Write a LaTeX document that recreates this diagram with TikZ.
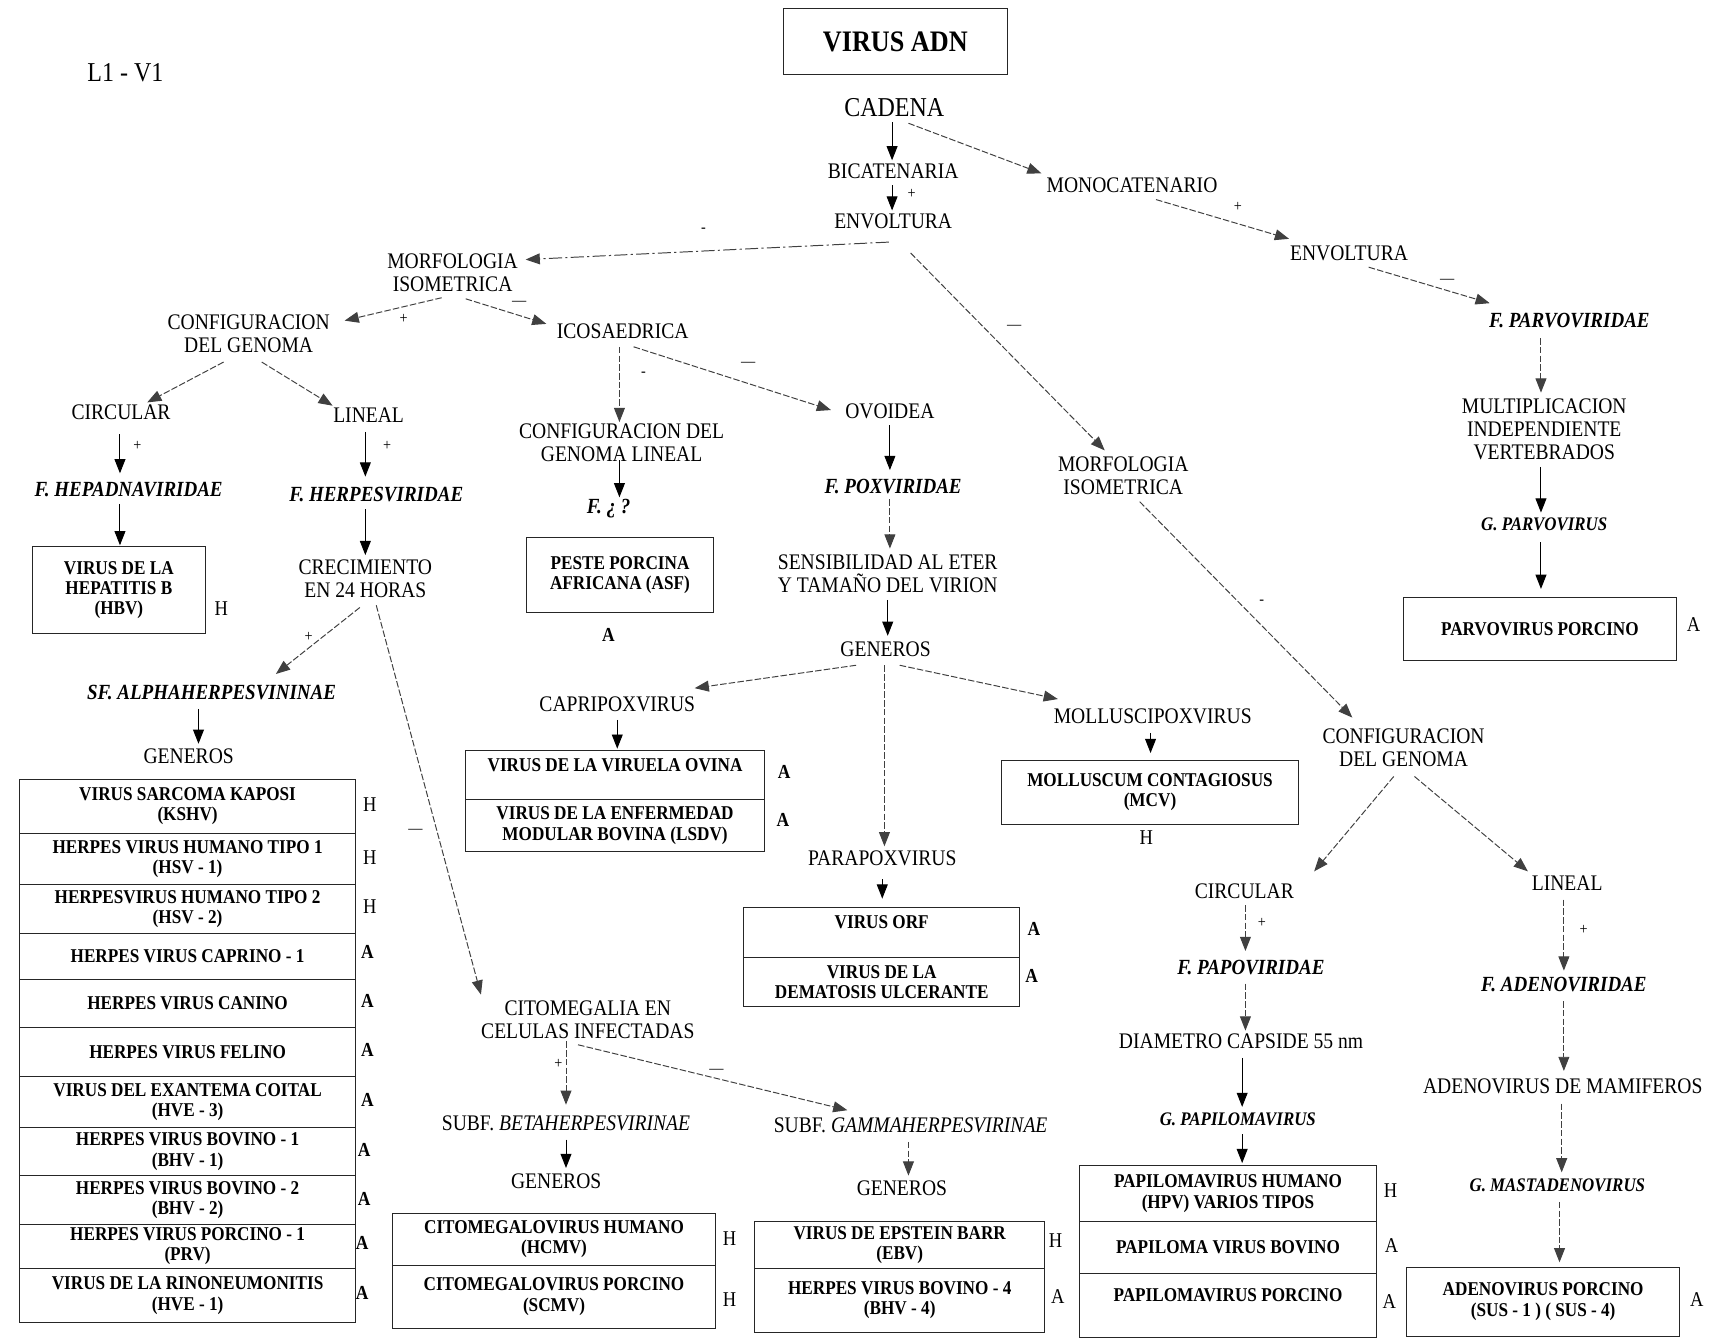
\documentclass[tikz,border=0pt]{standalone}
\usepackage{fontspec}
\setmainfont[FakeStretch=0.88]{Liberation Serif}
\usetikzlibrary{arrows.meta,calc}
\newcommand\myN{\fontsize{20.4}{21}\selectfont}
\newcommand\myBig{\fontsize{25}{26}\selectfont}
\newcommand\myT{\fontsize{27.3}{28}\selectfont\bfseries}
\newcommand\myB{\fontsize{17.9}{18.5}\selectfont\bfseries}
\newcommand\myI{\fontsize{19.8}{20}\selectfont\bfseries\itshape}
\newcommand\myG{\fontsize{17.6}{18}\selectfont\bfseries\itshape}
\newcommand\myL{\fontsize{19.3}{20}\selectfont}
\newcommand\myLB{\fontsize{18.2}{19}\selectfont\bfseries}
\newcommand\myS{\fontsize{14.8}{15}\selectfont}
\begin{document}
\begin{tikzpicture}[x=1pt,y=-1pt,
 every node/.style={inner sep=1pt,align=center},
 txt/.style={font=\myN},
 big/.style={font=\myBig},
 fam/.style={font=\myI},
 gen/.style={font=\myG},
 vbox/.style={draw=black!85,line width=0.8pt,inner sep=0pt,font=\myB},
 lab/.style={font=\myL},
 labb/.style={font=\myLB},
 pm/.style={font=\myS},
 arr/.style={line width=0.9pt,-{Triangle[length=13pt,width=10pt]}},
 darr/.style={arr,draw=black!75,dash pattern=on 6pt off 2pt},
 ddarr/.style={arr,draw=black!75,dash pattern=on 12pt off 3pt on 2pt off 3pt}]
\fill[white] (0,0) rectangle (1568,1228);
\useasboundingbox (0,0) rectangle (1568,1228);

% ---------- top ----------
\node[big] (l1) at (115,67) {L1 - V1};
\node[vbox,minimum width=206pt,minimum height=60pt,font=\myT] (title) at (821,38) {VIRUS ADN};
\node[big] (cadena) at (820,99) {CADENA};
\node[txt] (bicat) at (819,157) {BICATENARIA};
\node[txt] (mono) at (1038,170) {MONOCATENARIO};
\node[txt] (env1) at (819,203) {ENVOLTURA};
\node[txt] (env2) at (1237,232) {ENVOLTURA};

% ---------- right column (parvo) ----------
\node[fam] (parvo) at (1439,294) {F. PARVOVIRIDAE};
\node[txt] (multi) at (1416,394) {MULTIPLICACION\\INDEPENDIENTE\\VERTEBRADOS};
\node[gen] (gparvo) at (1416,481) {G. PARVOVIRUS};
\node[vbox,minimum width=251pt,minimum height=58pt] (bparvo) at (1412,577) {PARVOVIRUS PORCINO};
\node[lab] (lparvo) at (1553,573) {A};

% ---------- left branch ----------
\node[txt] (morf1) at (415,250) {MORFOLOGIA\\ISOMETRICA};
\node[txt] (conf1) at (228,306) {CONFIGURACION\\DEL GENOMA};
\node[txt] (icosa) at (571,304) {ICOSAEDRICA};
\node[txt] (circ1) at (111,378) {CIRCULAR};
\node[txt] (lin1) at (338,381) {LINEAL};
\node[fam] (hepa) at (118,449) {F. HEPADNAVIRIDAE};
\node[vbox,minimum width=158pt,minimum height=80pt] (bhep) at (109,541) {VIRUS DE LA\\HEPATITIS B\\(HBV)};
\node[lab] (lhep) at (203,558) {H};
\node[fam] (herpes) at (345,453) {F. HERPESVIRIDAE};
\node[txt] (crec) at (335,531) {CRECIMIENTO\\EN 24 HORAS};
\node[fam] (alpha) at (194,635) {SF. ALPHAHERPESVININAE};
\node[txt] (gen1) at (173,693) {GENEROS};

% left stack
\node[vbox,minimum width=308pt,minimum height=49pt] (k1) at (172,739.5) {VIRUS SARCOMA KAPOSI\\(KSHV)};
\node[vbox,minimum width=308pt,minimum height=47pt] (k2) at (172,787.5) {HERPES VIRUS HUMANO TIPO 1\\(HSV - 1)};
\node[vbox,minimum width=308pt,minimum height=45pt] (k3) at (172,833.5) {HERPESVIRUS HUMANO TIPO 2\\(HSV - 2)};
\node[vbox,minimum width=308pt,minimum height=42pt] (k4) at (172,877) {HERPES VIRUS CAPRINO - 1};
\node[vbox,minimum width=308pt,minimum height=44pt] (k5) at (172,920) {HERPES VIRUS CANINO};
\node[vbox,minimum width=308pt,minimum height=45pt] (k6) at (172,964.5) {HERPES VIRUS FELINO};
\node[vbox,minimum width=308pt,minimum height=47pt] (k7) at (172,1010.5) {VIRUS DEL EXANTEMA COITAL\\(HVE - 3)};
\node[vbox,minimum width=308pt,minimum height=44pt] (k8) at (172,1056) {HERPES VIRUS BOVINO - 1\\(BHV - 1)};
\node[vbox,minimum width=308pt,minimum height=45pt] (k9) at (172,1100.5) {HERPES VIRUS BOVINO - 2\\(BHV - 2)};
\node[vbox,minimum width=308pt,minimum height=40pt] (k10) at (172,1143) {HERPES VIRUS PORCINO - 1\\(PRV)};
\node[vbox,minimum width=308pt,minimum height=50pt] (k11) at (172,1188) {VIRUS DE LA RINONEUMONITIS\\(HVE - 1)};
\node[lab] (lk1) at (339,738) {H};
\node[lab] (lk2) at (339,786) {H};
\node[lab] (lk3) at (339,831) {H};
\node[labb] (lk4) at (337,873) {A};
\node[labb] (lk5) at (337,918) {A};
\node[labb] (lk6) at (337,963) {A};
\node[labb] (lk7) at (337,1009) {A};
\node[labb] (lk8) at (334,1054) {A};
\node[labb] (lk9) at (334,1099) {A};
\node[labb] (lk10) at (332,1140) {A};
\node[labb] (lk11) at (332,1186) {A};

% ---------- middle ----------
\node[txt] (conflin) at (570,406) {CONFIGURACION DEL\\GENOMA LINEAL};
\node[fam] (fq) at (558,466) {F. ¿ ?};
\node[vbox,minimum width=171pt,minimum height=69pt] (bpeste) at (568.5,527.5) {PESTE PORCINA\\AFRICANA (ASF)};
\node[labb] (lpeste) at (558,582) {A};
\node[txt] (ovo) at (816,377) {OVOIDEA};
\node[fam] (pox) at (819,446) {F. POXVIRIDAE};
\node[txt] (sens) at (814,526) {SENSIBILIDAD AL ETER\\Y TAMAÑO DEL VIRION};
\node[txt] (gen2) at (812,595) {GENEROS};
\node[txt] (capri) at (566,646) {CAPRIPOXVIRUS};
\node[txt] (moll) at (1057,657) {MOLLUSCIPOXVIRUS};
\node[txt] (para) at (809,787) {PARAPOXVIRUS};
\node[vbox,minimum width=274pt,minimum height=45pt] (bovina) at (564,710.5) {VIRUS DE LA VIRUELA OVINA\\ ~};
\node[vbox,minimum width=274pt,minimum height=48pt] (blsdv) at (564,757) {VIRUS DE LA ENFERMEDAD\\MODULAR BOVINA (LSDV)};
\node[labb] (lovina) at (719,708) {A};
\node[labb] (llsdv) at (718,752) {A};
\node[vbox,minimum width=253pt,minimum height=46pt] (borf) at (808.5,855) {VIRUS ORF\\ ~};
\node[vbox,minimum width=253pt,minimum height=45pt] (bderm) at (808.5,900.5) {VIRUS DE LA\\DEMATOSIS ULCERANTE};
\node[labb] (lorf) at (948,852) {A};
\node[labb] (lderm) at (946,895) {A};
\node[vbox,minimum width=273pt,minimum height=59pt] (bmcv) at (1054.5,726.5) {MOLLUSCUM CONTAGIOSUS\\(MCV)};
\node[lab] (lmcv) at (1051,768) {H};

\node[txt] (cito) at (539,935) {CITOMEGALIA EN\\CELULAS INFECTADAS};
\node[txt] (beta) at (519,1030) {SUBF. \textit{BETAHERPESVIRINAE}};
\node[txt] (gen3) at (510,1083) {GENEROS};
\node[vbox,minimum width=296pt,minimum height=47pt] (bhcmv) at (508,1136.5) {CITOMEGALOVIRUS HUMANO\\(HCMV)};
\node[vbox,minimum width=296pt,minimum height=58pt] (bscmv) at (508,1189) {CITOMEGALOVIRUS PORCINO\\(SCMV)};
\node[lab] (lhcmv) at (669,1136) {H};
\node[lab] (lscmv) at (669,1192) {H};
\node[txt] (gamma) at (835,1032) {SUBF. \textit{GAMMAHERPESVIRINAE}};
\node[txt] (gen4) at (827,1090) {GENEROS};
\node[vbox,minimum width=266pt,minimum height=43pt] (bebv) at (825,1141.5) {VIRUS DE EPSTEIN BARR\\(EBV)};
\node[vbox,minimum width=266pt,minimum height=59pt] (bbhv4) at (825,1192.5) {HERPES VIRUS BOVINO - 4\\(BHV - 4)};
\node[lab] (lebv) at (968,1138) {H};
\node[lab] (lbhv4) at (970,1189) {A};

% ---------- right branch ----------
\node[txt] (morf2) at (1030,436) {MORFOLOGIA\\ISOMETRICA};
\node[txt] (conf2) at (1287,686) {CONFIGURACION\\DEL GENOMA};
\node[txt] (circ2) at (1141,817) {CIRCULAR};
\node[txt] (lin2) at (1437,810) {LINEAL};
\node[fam] (papo) at (1147,887) {F. PAPOVIRIDAE};
\node[txt] (diam) at (1138,955) {DIAMETRO CAPSIDE 55 nm};
\node[gen] (gpapi) at (1135,1026) {G. PAPILOMAVIRUS};
\node[vbox,minimum width=272pt,minimum height=51pt] (bhpv) at (1126,1094.5) {PAPILOMAVIRUS HUMANO\\(HPV) VARIOS TIPOS};
\node[vbox,minimum width=272pt,minimum height=48pt] (bbpv) at (1126,1144) {PAPILOMA VIRUS BOVINO};
\node[vbox,minimum width=272pt,minimum height=58pt] (bppv) at (1126,1197) {PAPILOMAVIRUS PORCINO\\ ~};
\node[lab] (lhpv) at (1275,1092) {H};
\node[lab] (lbpv) at (1276,1142) {A};
\node[lab] (lppv) at (1274,1193) {A};
\node[fam] (adeno) at (1434,903) {F. ADENOVIRIDAE};
\node[txt] (mami) at (1433,996) {ADENOVIRUS DE MAMIFEROS};
\node[gen] (gmast) at (1428,1087) {G. MASTADENOVIRUS};
\node[vbox,minimum width=250pt,minimum height=63pt] (bsus) at (1415,1193.5) {ADENOVIRUS PORCINO\\(SUS - 1 ) ( SUS - 4)};
\node[lab] (lsus) at (1556,1192) {A};

% ---------- connectors ----------
\draw[arr] ($(cadena)+(-2,13)$) -- ($(bicat)+(-1,-10)$);
\draw[darr] ($(cadena)+(13,14)$) -- ($(mono)+(-83,-11)$);
\draw[arr] ($(bicat)+(-1,13)$) -- ($(env1)+(-1,-10)$);
\draw[ddarr] ($(env1)+(-4,19)$) -- ($(morf1)+(67,-12)$);
\draw[darr] ($(env1)+(16,29)$) -- ($(morf2)+(-17,-23)$);
\draw[darr] ($(mono)+(22,13)$) -- ($(env2)+(-55,-13)$);
\draw[darr] ($(env2)+(18,13)$) -- ($(parvo)+(-73,-16)$);
\draw[darr] ($(parvo)+(-26,16)$) -- ($(multi)+(-3,-34)$);
\draw[arr] ($(multi)+(-3,34)$) -- ($(gparvo)+(-3,-11)$);
\draw[arr] ($(gparvo)+(-3,16)$) -- ($(bparvo)+(1,-37)$);

\draw[darr] ($(morf1)+(-10,23)$) -- ($(conf1)+(88,-12)$);
\draw[darr] ($(morf1)+(12,24)$) -- ($(icosa)+(-70,-7)$);
\draw[darr] ($(conf1)+(-23,26)$) -- ($(circ1)+(24,-9)$);
\draw[darr] ($(conf1)+(12,26)$) -- ($(lin1)+(-33,-9)$);
\draw[arr] ($(circ1)+(-1,20)$) -- ($(hepa)+(-8,-15)$);
\draw[arr] ($(hepa)+(-8,13)$) -- ($(bhep)+(1,-41)$);
\draw[arr] ($(lin1)+(-3,15)$) -- ($(herpes)+(-10,-16)$);
\draw[arr] ($(herpes)+(-10,14)$) -- ($(crec)+(0,-22)$);
\draw[darr] ($(crec)+(-5,26)$) -- ($(alpha)+(59,-17)$);
\draw[darr] ($(crec)+(10,24)$) -- ($(cito)+(-98,-23)$);
\draw[arr] ($(alpha)+(-12,15)$) -- ($(gen1)+(9,-11)$);

\draw[darr] ($(icosa)+(-3,14)$) -- ($(conflin)+(-2,-19)$);
\draw[darr] ($(icosa)+(10,14)$) -- ($(ovo)+(-54,-1)$);
\draw[arr] ($(conflin)+(-2,16)$) -- ($(fq)+(10,-10)$);
\draw[arr] ($(ovo)+(0,13)$) -- ($(pox)+(-3,-15)$);
\draw[darr] ($(pox)+(-3,12)$) -- ($(sens)+(2,-23)$);
\draw[arr] ($(sens)+(0,24)$) -- ($(gen2)+(2,-12)$);
\draw[darr] ($(gen2)+(-27,15)$) -- ($(capri)+(71,-15)$);
\draw[darr] ($(gen2)+(13,15)$) -- ($(moll)+(-87,-16)$);
\draw[darr] ($(gen2)+(-1,15)$) -- ($(para)+(2,-11)$);
\draw[arr] ($(capri)+(0,14)$) -- ($(bovina)+(2,-24)$);
\draw[arr] ($(para)+(0,19)$) -- ($(borf)+(0.5,-31)$);
\draw[arr] ($(moll)+(-2,15)$) -- ($(bmcv)+(0.5,-36)$);

\draw[darr] ($(cito)+(-20,20)$) -- ($(beta)+(0,-17)$);
\draw[darr] ($(cito)+(-9,23)$) -- ($(gamma)+(-58,-14)$);
\draw[arr] ($(beta)+(0,15)$) -- ($(gen3)+(9,-12)$);
\draw[darr] ($(gamma)+(-2,15)$) -- ($(gen4)+(6,-12)$);

\draw[darr] ($(morf2)+(15,24)$) -- ($(conf2)+(-47,-28)$);
\draw[darr] ($(conf2)+(-9,26)$) -- ($(circ2)+(64,-18)$);
\draw[darr] ($(conf2)+(10,26)$) -- ($(lin2)+(-36,-11)$);
\draw[darr] ($(circ2)+(1,13)$) -- ($(papo)+(-5,-15)$);
\draw[darr] ($(papo)+(-5,15)$) -- ($(diam)+(4,-10)$);
\draw[arr] ($(diam)+(1,15)$) -- ($(gpapi)+(4,-11)$);
\draw[arr] ($(gpapi)+(4,14)$) -- ($(bhpv)+(13,-28)$);
\draw[darr] ($(lin2)+(-3,15)$) -- ($(adeno)+(0,-13)$);
\draw[darr] ($(adeno)+(0,15)$) -- ($(mami)+(1,-14)$);
\draw[darr] ($(mami)+(-1,16)$) -- ($(gmast)+(4,-12)$);
\draw[darr] ($(gmast)+(2,15)$) -- ($(bsus)+(15,-36)$);

% ---------- connector signs ----------
\node[pm] (s1) at (836,178) {+};
\node[pm] (s2) at (645,211) {-};
\node[pm] (s3) at (1135,190) {+};
\node[pm] (s4) at (1327,258) {---};
\node[pm] (s5) at (930,300) {---};
\node[pm] (s6) at (370,292) {+};
\node[pm] (s7) at (476,278) {---};
\node[pm] (s8) at (126,409) {+};
\node[pm] (s9) at (355,409) {+};
\node[pm] (s10) at (590,343) {-};
\node[pm] (s11) at (686,334) {---};
\node[pm] (s12) at (283,584) {+};
\node[pm] (s13) at (381,762) {---};
\node[pm] (s14) at (1157,552) {-};
\node[pm] (s15) at (512,976) {+};
\node[pm] (s16) at (657,982) {---};
\node[pm] (s17) at (1157,846) {+};
\node[pm] (s18) at (1452,853) {+};
\end{tikzpicture}
\end{document}
